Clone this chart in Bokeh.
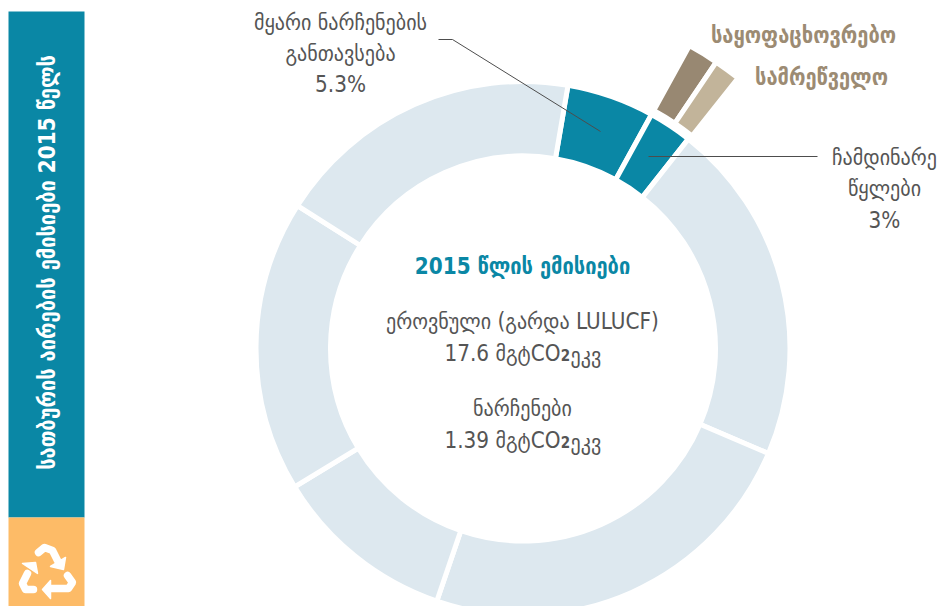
import numpy as np
from bokeh.core.properties import value
from bokeh.embed import file_html
from bokeh.models import ColumnDataSource, Range1d
from bokeh.plotting import figure
from bokeh.resources import INLINE

# Data: ring shares in percent, clockwise from the first teal slice
ring_names = ["მყარი ნარჩენების განთავსება", "ჩამდინარე წყლები", "a", "b", "c", "d", "e"]
ring_shares = [5.3, 2.64, 20.8, 23.8, 11.1, 17.65, 18.71]
ring_colors = ["#0a87a5", "#0a87a5", "#dde8ef", "#dde8ef", "#dde8ef", "#dde8ef", "#dde8ef"]
sub_names = ["საყოფაცხოვრებო", "სამრეწველო"]
sub_shares = [1.45, 1.25]
sub_colors = ["#988872", "#c2b49a"]

FONT_V = value("DejaVu Sans Condensed")
W, H = 939, 606
CX, CY = 522.5, 348
START_DEG = 9.7
GAP = 5


def px(x):
    return np.asarray(x, dtype=float)


def py(y):
    return H - np.asarray(y, dtype=float)


p = figure(width=W, height=H, x_range=Range1d(0, W), y_range=Range1d(0, H),
           output_backend="svg", toolbar_location=None, min_border=0)
p.axis.visible = False
p.grid.visible = False
p.outline_line_color = None
p.background_fill_color = "white"


def wedges(shares, start, colors, r0, r1):
    edges = start + np.concatenate([[0], np.cumsum(shares)]) * 3.6
    src = ColumnDataSource(dict(
        x=[float(px(CX))] * len(shares), y=[float(py(CY))] * len(shares),
        s=list(np.radians(90 - edges[1:])), e=list(np.radians(90 - edges[:-1])),
        c=colors))
    p.annular_wedge(x="x", y="y", inner_radius=r0, outer_radius=r1,
                    start_angle="s", end_angle="e", fill_color="c",
                    line_color="white", line_width=GAP, source=src)
    return edges


edges = wedges(ring_shares, START_DEG, ring_colors, 192.5, 267)
wedges(sub_shares, edges[1], sub_colors, 271.5, 345.5)

# Sidebar
p.quad(left=px([8]), right=px([84]), top=py([11]), bottom=py([517]), fill_color="#0a87a5", line_color=None)
p.quad(left=px([8]), right=px([84]), top=py([517]), bottom=py([606]), fill_color="#fdbb67", line_color=None)

# Recycling icon
lines_x = [[38, 44, 52, 57], [33, 25, 22, 27], [67, 72, 68, 50]]
lines_y = [[552, 547, 550, 560], [589, 589, 583, 573], [575, 582, 588, 588]]
p.multi_line([list(px(a)) for a in lines_x], [list(py(a)) for a in lines_y],
             line_color="white", line_width=7.5, line_cap="round", line_join="round")
heads_x = [[65, 63, 50], [22, 35, 37], [50, 42, 50]]
heads_y = [[557, 569, 566], [563, 562, 573], [580, 589, 598]]
p.patches([list(px(a)) for a in heads_x], [list(py(a)) for a in heads_y],
          fill_color="white", line_color="white", line_width=1.5, line_join="round")

# Leader lines
p.line(px([438, 452, 600]), py([39, 39, 131]), line_color="#4d4d4d", line_width=1)
p.line(px([648, 817]), py([156, 156]), line_color="#4d4d4d", line_width=1)


def label(x, y, t, size=22.3, color="#555555", style="normal", align="center", angle=0.0):
    p.text(x=[float(px(x))], y=[float(py(y))], text=[t], text_font=FONT_V, text_font_size=f"{size}px",
           text_color=color, text_font_style=style, text_align=align, text_baseline="middle", angle=angle)


label(46, 262, "სათბურის აირების ემისიები 2015 წელს", color="white", style="bold", angle=np.pi / 2)

label(340, 21, "მყარი ნარჩენების")
label(340, 52, "განთავსება")
label(340, 83, "5.3%")
label(884, 156, "ჩამდინარე")
label(884, 187, "წყლები")
label(884, 219, "3%")

label(803, 34, sub_names[0], color="#9c8b73", style="bold")
label(821, 76, sub_names[1], color="#9c8b73", style="bold")

label(522, 265, "2015 წლის ემისიები", color="#0a87a5", style="bold")
label(522, 320, "ეროვნული (გარდა LULUCF)")
label(560, 352, "17.6 მგტCO", align="right")
label(565, 354, "2", size=15, style="bold")
label(570, 354, "ეკვ", align="left")
label(522, 407, "ნარჩენები")
label(560, 439, "1.39 მგტCO", align="right")
label(565, 441, "2", size=15, style="bold")
label(570, 441, "ეკვ", align="left")

open("out.html", "w").write(file_html(p, INLINE))
